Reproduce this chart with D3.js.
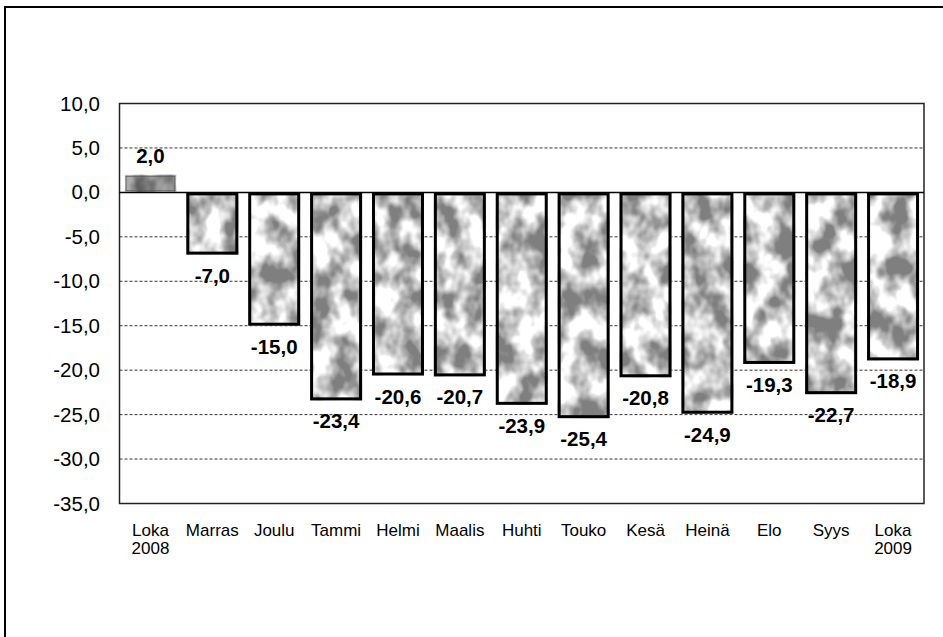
<!DOCTYPE html>
<html>
<head>
<meta charset="utf-8">
<script src="https://cdn.jsdelivr.net/npm/d3@7"></script>
<style>
  body { margin: 0; background: #fff; }
  svg { display: block; font-family: Arial, "Liberation Sans", sans-serif; }
</style>
</head>
<body>
<div id="chart"></div>
<script>
// months on the x axis, second line only where the year changes
var months = ['Loka', 'Marras', 'Joulu', 'Tammi', 'Helmi', 'Maalis', 'Huhti',
              'Touko', 'Kesä', 'Heinä', 'Elo', 'Syys', 'Loka'];
var years = ['2008', '', '', '', '', '', '', '', '', '', '', '', '2009'];

// bar values (percent change)
var values = [2.0, -7.0, -15.0, -23.4, -20.6, -20.7, -23.9, -25.4, -20.8, -24.9, -19.3, -22.7, -18.9];

// y axis ticks
var yTicks = [10, 5, 0, -5, -10, -15, -20, -25, -30, -35];

var width = 943, height = 637;
var plot = {left: 119.5, right: 924, top: 103.5, bottom: 503.5};

var fi = d3.formatLocale({decimal: ',', thousands: ' ', grouping: [3], currency: ['', ''], minus: '-'});
var fmt = fi.format('.1f');

var svg = d3.select('#chart').append('svg')
    .attr('width', width)
    .attr('height', height);

// mottled grey fill, like the scanned original
var defs = svg.append('defs');
var filter = defs.append('filter')
    .attr('id', 'mottle')
    .attr('color-interpolation-filters', 'sRGB')
    .attr('x', 0).attr('y', 0).attr('width', 1).attr('height', 1);
filter.append('feTurbulence')
    .attr('type', 'fractalNoise')
    .attr('baseFrequency', '0.045 0.035')
    .attr('numOctaves', 3)
    .attr('seed', 7)
    .attr('result', 'noise');
filter.append('feColorMatrix')
    .attr('in', 'noise')
    .attr('type', 'matrix')
    .attr('values', '3.0 0 0 0 -0.95  3.0 0 0 0 -0.95  3.0 0 0 0 -0.95  0 0 0 0 1')
    .attr('result', 'grey');
var ct = filter.append('feComponentTransfer').attr('in', 'grey').attr('result', 'lift');
['feFuncR', 'feFuncG', 'feFuncB'].forEach(function(f){
    ct.append(f).attr('type', 'linear').attr('slope', 0.5).attr('intercept', 0.5);
});
filter.append('feComposite')
    .attr('in', 'lift')
    .attr('in2', 'SourceGraphic')
    .attr('operator', 'in');

// outer frame (right and bottom edges run off the picture)
svg.append('rect')
    .attr('x', 5).attr('y', 7)
    .attr('width', width + 20).attr('height', height + 20)
    .attr('fill', 'none')
    .attr('stroke', '#000')
    .attr('stroke-width', 2);

var x = d3.scaleBand()
    .domain(d3.range(values.length))
    .range([plot.left, plot.right])
    .paddingInner(0.16)
    .paddingOuter(0.08);

var y = d3.scaleLinear()
    .domain([-35, 10])
    .range([plot.bottom, plot.top]);

// dashed grid lines
svg.append('g')
    .selectAll('line')
    .data(yTicks.filter(function(d){ return d !== 10 && d !== -35 && d !== 0; }))
    .enter().append('line')
        .attr('x1', plot.left)
        .attr('x2', plot.right)
        .attr('y1', function(d){ return y(d); })
        .attr('y2', function(d){ return y(d); })
        .attr('stroke', '#333')
        .attr('stroke-width', 1)
        .attr('stroke-dasharray', '3,2');

// plot border
svg.append('rect')
    .attr('x', plot.left).attr('y', plot.top)
    .attr('width', plot.right - plot.left)
    .attr('height', plot.bottom - plot.top)
    .attr('fill', 'none')
    .attr('stroke', '#222')
    .attr('stroke-width', 1.5);

// y axis labels
var yAxis = d3.axisLeft(y)
    .tickValues(yTicks)
    .tickSize(0)
    .tickPadding(19.5)
    .tickFormat(fmt);

svg.append('g')
    .attr('transform', 'translate(' + plot.left + ',0)')
    .call(yAxis)
    .call(function(g){ g.select('.domain').remove(); })
    .selectAll('text')
        .attr('font-size', '20.5px')
        .attr('font-family', 'Arial, "Liberation Sans", sans-serif')
        .attr('fill', '#000');

// bars: textured fill first, then the heavy outline
var bars = svg.append('g');

bars.selectAll('rect.fill')
    .data(values)
    .enter().append('rect')
        .attr('class', 'fill')
        .attr('x', function(d, i){ return x(i); })
        .attr('width', x.bandwidth())
        .attr('y', function(d){ return y(Math.max(0, d)); })
        .attr('height', function(d){ return Math.abs(y(d) - y(0)); })
        .attr('fill', '#000')
        .attr('filter', 'url(#mottle)');

bars.selectAll('rect.edge')
    .data(values)
    .enter().append('rect')
        .attr('class', 'edge')
        .attr('x', function(d, i){ return x(i) + 1.5; })
        .attr('width', x.bandwidth() - 3)
        .attr('y', function(d){ return y(Math.max(0, d)) + 1.5; })
        .attr('height', function(d){ return Math.max(0, Math.abs(y(d) - y(0)) - 3); })
        .attr('fill', function(d){ return d > 0 ? 'rgba(50,50,50,0.4)' : 'none'; })
        .attr('stroke', function(d){ return d > 0 ? '#555' : '#000'; })
        .attr('stroke-width', function(d){ return d > 0 ? 1 : 3; });

// zero line
svg.append('line')
    .attr('x1', plot.left).attr('x2', plot.right)
    .attr('y1', y(0)).attr('y2', y(0))
    .attr('stroke', '#000')
    .attr('stroke-width', 1.5);

// value labels
svg.append('g')
    .selectAll('text')
    .data(values)
    .enter().append('text')
        .attr('x', function(d, i){ return x(i) + x.bandwidth() / 2; })
        .attr('y', function(d){ return d < 0 ? y(d) + 28 : y(d) - 12; })
        .attr('text-anchor', 'middle')
        .attr('font-size', '20.5px')
        .attr('font-weight', 'bold')
        .text(function(d){ return fmt(d); });

// month labels
var xl = svg.append('g')
    .selectAll('text')
    .data(months)
    .enter().append('text')
        .attr('x', function(d, i){ return x(i) + x.bandwidth() / 2; })
        .attr('y', 536)
        .attr('text-anchor', 'middle')
        .attr('font-size', '17px');

xl.append('tspan').text(function(d){ return d; });
xl.append('tspan')
    .attr('x', function(d, i){ return x(i) + x.bandwidth() / 2; })
    .attr('dy', 18)
    .text(function(d, i){ return years[i]; });
</script>
</body>
</html>
